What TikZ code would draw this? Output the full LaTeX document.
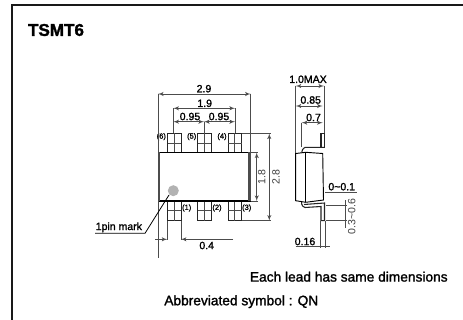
\documentclass[tikz,border=0pt]{standalone}
\usepackage{fontspec}
\setmainfont{Liberation Sans}[BoldFeatures={FakeBold=1.5}]
\newfontfamily\labelfont[FakeBold=1.5]{Liberation Sans}
\usetikzlibrary{arrows}

\begin{document}
\begin{tikzpicture}[x=0.75pt,y=-0.75pt]
\tikzset{body/.style = {draw=black,line width=1.1pt}}
\tikzset{lead/.style = {draw=black!85,fill=white,line width=0.6pt}}
\tikzset{thin line/.style = {draw=black!70,line width=0.45pt}}
\tikzset{dim/.style = {thin line,<->,> = latex'}}
\tikzset{txt/.style = {inner sep=0pt,font=\labelfont\fontsize{7.9}{9}\selectfont}}
\tikzset{side txt/.style = {inner sep=0pt,rotate=90,text=black!75,font=\fontsize{7.9}{9}\selectfont}}
\tikzset{pin/.style = {inner sep=0pt,font=\labelfont\fontsize{5.6}{7}\selectfont}}
\tikzset{note/.style = {inner sep=0pt,font=\labelfont\fontsize{10.3}{12}\selectfont}}
\useasboundingbox (0,0) rectangle (463,320);
\fill[white] (0,0) rectangle (463,320);

% frame
\draw[black!90,line width=1.4pt] (12,320) -- (12,5) -- (463,5);
\node[inner sep=0pt,font=\bfseries\fontsize{12.8}{14}\selectfont] (title) at (56,30) {TSMT6};

% top view, leads
\foreach \x/\n in {167.5/a,197.5/b,228/c}{
  \draw[lead] (\x,133.5) rectangle (\x+13.5,152.5);
  \draw[thin line] (\x+6.75,133.5) -- (\x+6.75,152.5) (\x,143) -- (\x+13.5,143);
  \draw[lead] (\x,201) rectangle (\x+13.5,220.5);
  \draw[thin line] (\x+6.75,201) -- (\x+6.75,220.5) (\x,210) -- (\x+13.5,210);
}

% top view, package
\draw[body,fill=white] (158.5,152.5) rectangle (250.5,201);
\fill[black!70] (158,152.5) rectangle (160,201);
\fill[black!70] (247.5,152.5) rectangle (250.5,201);
\fill[black!30] (173.3,190.7) circle (5.5);

% pin numbers
\node[pin] (p6) at (161.3,136.7) {(6)};
\node[pin] (p5) at (191.7,136.7) {(5)};
\node[pin] (p4) at (222,136.7) {(4)};
\node[pin] (p1) at (186.7,208) {(1)};
\node[pin] (p2) at (217,208) {(2)};
\node[pin] (p3) at (246.7,208) {(3)};

% top view, dimensions
\draw[thin line] (158,94) -- (158,258) (250.7,94) -- (250.7,152);
\draw[dim] (158,94) -- (250.7,94);
\node[txt] (w29) at (204,88.7) {2.9};
\draw[thin line] (173.3,108.3) -- (173.3,133) (235,108.3) -- (235,133) (204,121.7) -- (204,133);
\draw[dim] (173.3,108.3) -- (235,108.3);
\node[txt] (w19) at (204.7,103.3) {1.9};
\draw[dim] (173.3,121.7) -- (204,121.7);
\draw[dim] (204,121.7) -- (235,121.7);
\node[txt] (w095a) at (190,116.5) {0.95};
\node[txt] (w095b) at (219,116.5) {0.95};
\draw[thin line] (250.7,152.5) -- (258,152.5) (250.7,201) -- (258,201);
\draw[dim] (256.7,152.5) -- (256.7,201);
\node[side txt] (h18) at (261.7,177) {1.8};
\draw[thin line] (241.5,133.5) -- (271,133.5) (241.5,220.7) -- (271,220.7);
\draw[dim] (269.3,133.5) -- (269.3,220.7);
\node[side txt] (h28) at (276,177) {2.8};
\draw[thin line] (167.3,220.5) -- (167.3,240) (180.8,220.5) -- (180.8,240);
\draw[thin line,->,> = latex'] (155,239.3) -- (167.3,239.3);
\draw[thin line,->,> = latex'] (233,239.3) -- (180.8,239.3);
\node[txt] (w04) at (206.7,245.5) {0.4};

% pin mark
\node[txt,anchor=south west] (mark) at (95.5,232.5) {1pin mark};
\draw[thin line,black,line width=0.6pt] (95,233.3) -- (145,233.3) -- (169,195);

% side view, leads
\draw[lead,line width=0.8pt] (321,133.5) rectangle (324.5,147.3);
\draw[lead,fill=none,line width=0.8pt] (324.5,147.3) -- (305,147.3) to[bend right=30] (301.7,152.5);
\draw[lead,fill=none,line width=0.8pt] (301.7,201) -- (301.7,204) to[bend right=30] (305,207.5) -- (321,206.5) -- (321,220.7) -- (324.5,220.7) -- (324.5,203) -- (304,204.5);

% side view, package
\draw[body,fill=white,line width=0.7pt] (295.7,153.5) -- (305.7,152.3) -- (322.7,153.5) -- (323.5,200) -- (305.7,202.3) -- (295.7,200.7) -- cycle;
\draw[body,line width=0.7pt] (305.7,152.3) -- (305.7,202.3);

% side view, dimensions
\draw[thin line] (295.7,86) -- (295.7,153) (324,86) -- (324,133.5) (301.7,122.7) -- (301.7,147);
\draw[dim] (295.7,86) -- (324,86);
\node[txt] (t10) at (308,79.3) {1.0MAX};
\draw[dim] (295.7,106) -- (322.7,106);
\node[txt] (t085) at (310.7,100) {0.85};
\draw[dim] (301.7,122.7) -- (322.7,122.7);
\node[txt] (t07) at (313.5,117.5) {0.7};
\draw[thin line] (325,192.7) -- (356.7,192.7);
\node[txt] (t01) at (341.7,186.7) {0\textasciitilde0.1};
\draw[thin line] (326,205) -- (347,205) (326,220.7) -- (347,220.7) (345,200) -- (345,227.7);
\node[side txt] (t36) at (351.7,216.7) {0.3\textasciitilde0.6};
\draw[thin line] (320.5,220.7) -- (320.5,248) (324.8,220.7) -- (324.8,248);
\draw[thin line] (295.7,246.7) -- (330,246.7);
\node[txt] (t016) at (305,241.5) {0.16};

% notes
\node[note] (lead note) at (348.8,276.7) {Each lead has same dimensions};
\node[note] (symbol) at (241.3,301.7) {Abbreviated symbol : QN};

\end{tikzpicture}
\end{document}
